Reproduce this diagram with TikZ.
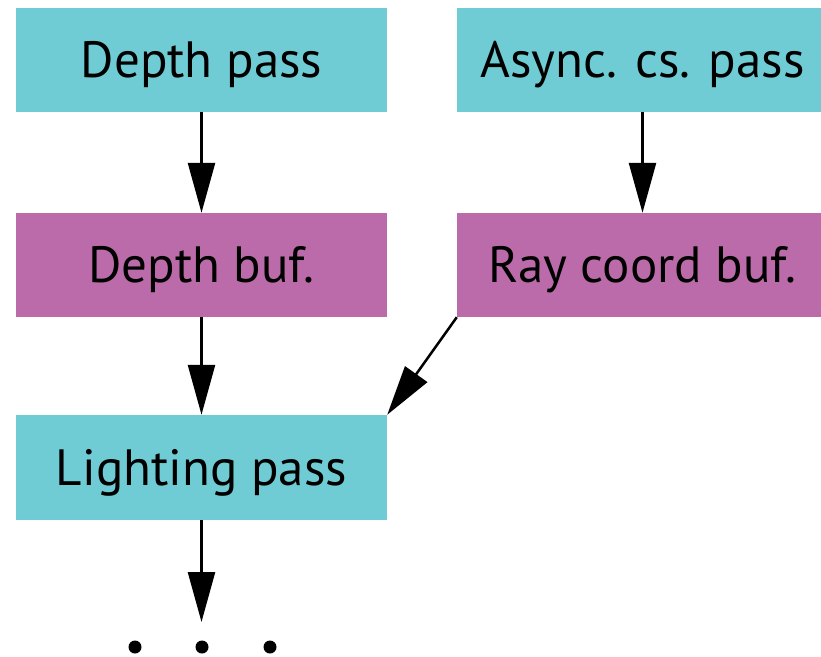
\documentclass[tikz,border=0pt]{standalone}
\usepackage{fontspec}
\setmainfont{PT Sans}
\usetikzlibrary{arrows.meta}
\definecolor{passcol}{HTML}{70CCD4}
\definecolor{bufcol}{HTML}{BC6BAA}
\tikzset{
  x=1pt,y=1pt,
  box/.style={rectangle, draw=none, inner sep=0pt, minimum width=371pt, minimum height=104pt,
    font=\fontsize{51}{60}\selectfont, text=black, text height=35pt, text depth=0pt},
  passbox/.style={box, fill=passcol},
  bufbox/.style={box, fill=bufcol},
  conn/.style={line width=2.5pt, -{Triangle[length=50pt,width=27pt]}},
  dotmark/.style={circle, fill=black, inner sep=0pt, minimum size=13pt}
}
\begin{document}
\begin{tikzpicture}
\clip (0,0) rectangle (821,-656);
\fill[white] (0,0) rectangle (821,-656);
\node[passbox] (dpass) at (201.5,-60) {Depth pass};
\node[passbox] (apass) at (642.5,-60) {Async. cs. pass};
\node[bufbox] (dbuf) at (201.5,-265) {Depth buf.};
\node[bufbox] (rbuf) at (642.5,-265) {Ray coord buf.};
\node[passbox, minimum height=105pt] (light) at (201.5,-467.5) {Lighting pass};
\coordinate (more) at (201.5,-622);
\node[dotmark] (d1) at (135,-647) {};
\node[dotmark] (d2) at (202,-647) {};
\node[dotmark] (d3) at (270,-647) {};
\draw[conn] (dpass.south) -- (dbuf.north);
\draw[conn] (apass.south) -- (rbuf.north);
\draw[conn] (dbuf.south) -- (light.north);
\draw[conn] (rbuf.south west) -- (light.north east);
\draw[conn] (light.south) -- (more);
\end{tikzpicture}
\end{document}
